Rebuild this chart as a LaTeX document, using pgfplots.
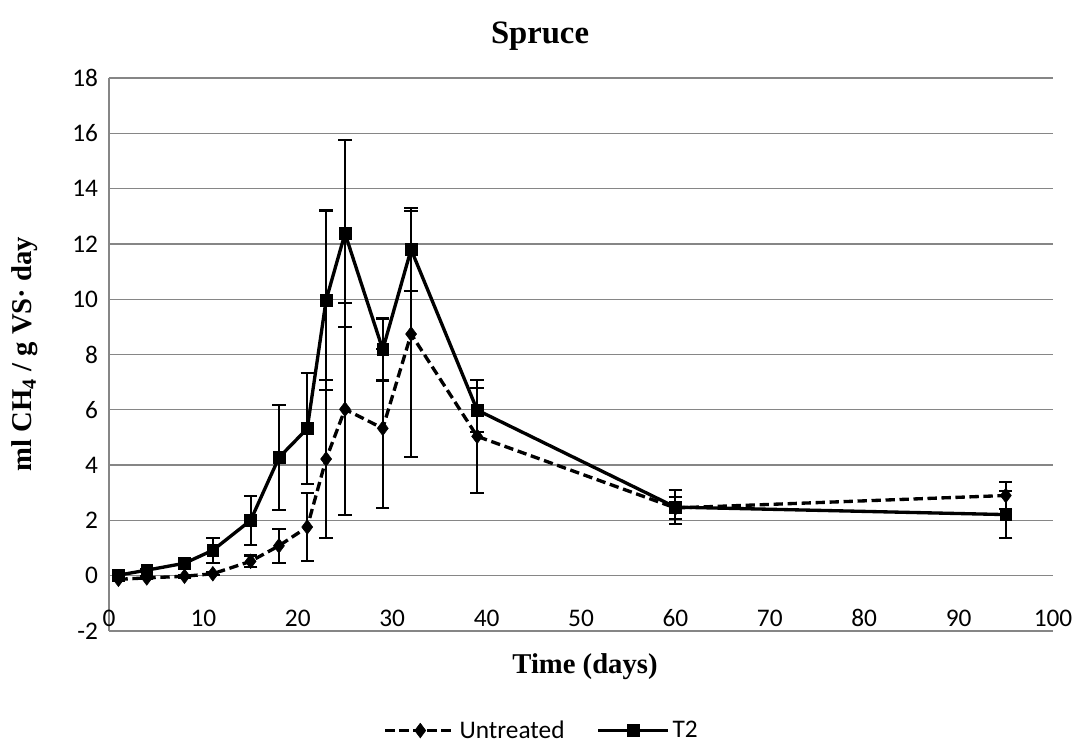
\documentclass[border=0pt]{standalone}
\usepackage{pgfplots}
\usepackage{pgfplotstable}
\pgfplotsset{compat=1.18}
\usepackage{fontspec}
\setmainfont{Carlito}
\newfontfamily\serifb{Liberation Serif}
\definecolor{gridgray}{RGB}{134,134,134}

\pgfplotstableread{
x y e
1 -0.13 0.05
4 -0.08 0.05
8 -0.02 0.05
11 0.07 0.05
15 0.52 0.21
18 1.08 0.62
21 1.76 1.24
23 4.22 2.87
25 6.02 3.84
29 5.33 2.88
32 8.74 4.44
39 5.04 2.04
60 2.45 0.41
95 2.90 0.48
}\untreated

\pgfplotstableread{
x y e
1 0.02 0.05
4 0.20 0.05
8 0.45 0.08
11 0.92 0.45
15 2.00 0.88
18 4.27 1.90
21 5.32 2.00
23 9.97 3.24
25 12.38 3.39
29 8.18 1.12
32 11.80 1.50
39 5.99 0.80
60 2.48 0.62
95 2.21 0.84
}\ttwo

\begin{document}
\begin{tikzpicture}
\path[use as bounding box] (-81.75pt,-85.5pt) rectangle (728.25pt,473.25pt);
\begin{axis}[
  at={(0pt,0pt)}, anchor=south west,
  scale only axis, width=708pt, height=414.75pt,
  xmin=0, xmax=100, ymin=-2, ymax=18,
  xtick={0,10,...,100}, ytick={-2,0,...,18},
  axis x line*=bottom, axis y line*=left,
  axis line style={gridgray, line width=1pt},
  ymajorgrids, grid style={gridgray, line width=1pt},
  major tick length=0pt,
  tick label style={font=\fontsize{19}{22}\selectfont},
  /pgf/number format/assume math mode=true,
  xticklabel style={anchor=center, yshift=9.75pt},
  yticklabel style={anchor=east, inner sep=0pt, xshift=-8pt},
  legend columns=2,
  legend style={at={(0.4587,-0.1800)}, anchor=center, draw=none,
    font=\fontsize{19}{22}\selectfont,
    /tikz/every even column/.append style={column sep=22pt}},
  legend image code/.code={\draw[mark repeat=2, mark phase=2] plot coordinates {(0pt,0pt)(26.25pt,0pt)(52.5pt,0pt)};},
]
\addplot[black, line width=2.5pt, dash pattern=on 7pt off 3.5pt,
  mark=diamond*, mark size=5.5pt, mark options={solid, line width=0.4pt},
  error bars/.cd, y dir=both, y explicit,
  error bar style={solid, line width=1.6pt},
  error mark options={solid, rotate=90, line width=1.6pt, mark size=5pt}]
  table[x=x, y=y, y error=e]{\untreated};
\addlegendentry{Untreated}
\addplot[black, line width=2.5pt,
  mark=square*, mark size=4.4pt, mark options={solid, line width=0.4pt},
  error bars/.cd, y dir=both, y explicit,
  error bar style={solid, line width=1.6pt},
  error mark options={solid, rotate=90, line width=1.6pt, mark size=5pt}]
  table[x=x, y=y, y error=e]{\ttwo};
\addlegendentry{T2}
\end{axis}
\node[font=\serifb\bfseries\fontsize{24.5}{28}\selectfont] at (323.25pt,446.25pt) {Spruce};
\node[font=\serifb\bfseries\fontsize{21.5}{24}\selectfont] at (357pt,-27pt) {Time (days)};
\node[rotate=90, font=\serifb\bfseries\fontsize{21.5}{24}\selectfont] at (-63pt,207.75pt) {ml CH\textsubscript{4} / g VS· day};
\end{tikzpicture}
\end{document}
